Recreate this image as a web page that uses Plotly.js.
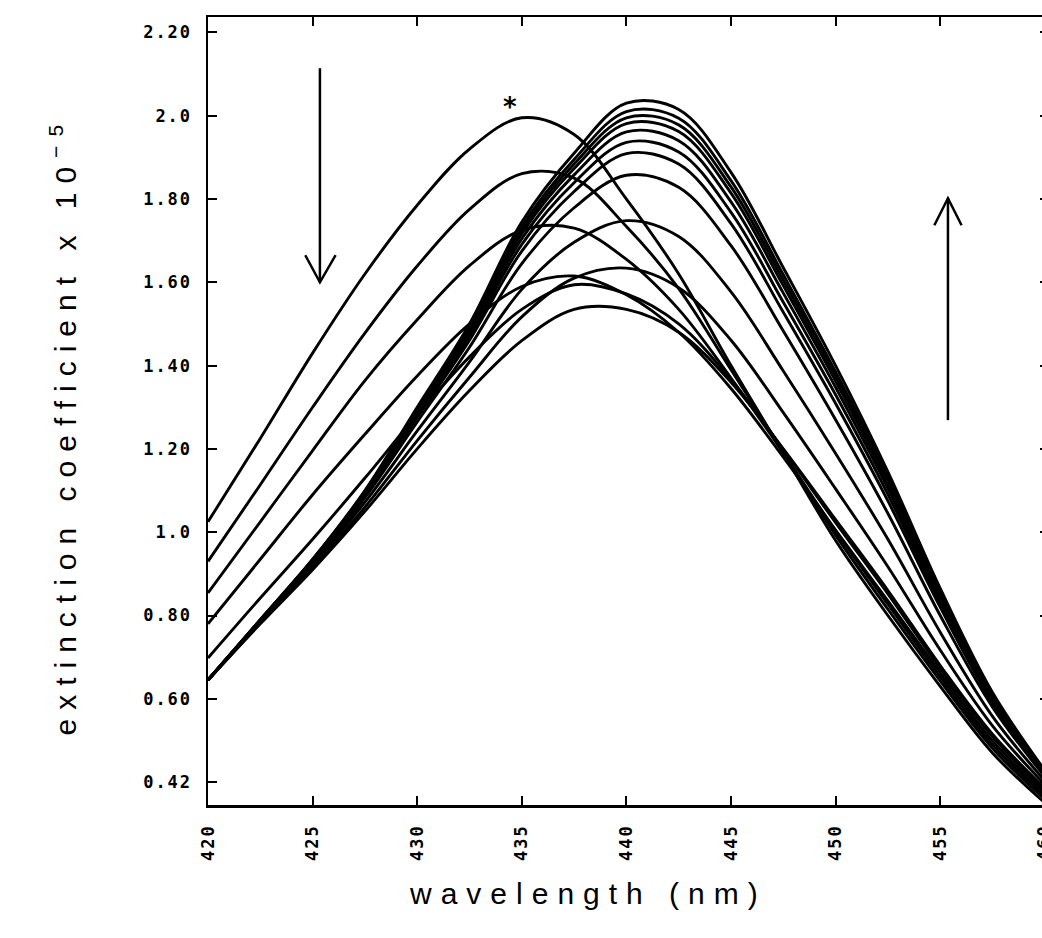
<!DOCTYPE html>
<html>
<head>
<meta charset="utf-8">
<script src="https://cdn.plot.ly/plotly-3.0.1.min.js"></script>
<style>
  html, body { margin: 0; padding: 0; background: #fff; overflow: hidden; width: 1042px; height: 938px; }
  #chart { width: 1049px; height: 938px; }
  .annotation-text { letter-spacing: 9px; }
  .ytick text, .xtick text { letter-spacing: 2px; }
</style>
</head>
<body>
<div id="chart"></div>
<script>
// wavelengths (nm)
const wavelength = [420, 422.5, 425, 427.5, 430, 432.5, 435, 437.5, 440, 442.5, 445, 447.5, 450, 452.5, 455, 457.5, 460];

// decreasing series (down arrow), extinction coefficient x 10^-5
const specA = [1.025, 1.225, 1.43, 1.62, 1.785, 1.92, 1.995, 1.955, 1.80, 1.62, 1.40, 1.19, 0.98, 0.80, 0.63, 0.47, 0.35];
const specB = [0.930, 1.114, 1.30, 1.478, 1.639, 1.775, 1.861, 1.85, 1.734, 1.585, 1.39, 1.193, 0.993, 0.815, 0.643, 0.481, 0.359];
const specC = [0.854, 1.025, 1.196, 1.364, 1.51, 1.64, 1.725, 1.73, 1.655, 1.535, 1.37, 1.19, 1.003, 0.827, 0.653, 0.49, 0.366];
const specD = [0.78, 0.935, 1.09, 1.235, 1.375, 1.50, 1.59, 1.615, 1.57, 1.48, 1.345, 1.18, 1.005, 0.835, 0.663, 0.499, 0.373];
const specE = [0.698, 0.842, 0.983, 1.13, 1.282, 1.421, 1.535, 1.594, 1.572, 1.50, 1.366, 1.199, 1.023, 0.852, 0.673, 0.509, 0.38];
const specF = [0.645, 0.78, 0.91, 1.05, 1.20, 1.34, 1.46, 1.535, 1.535, 1.48, 1.36, 1.20, 1.03, 0.86, 0.68, 0.515, 0.385];

// increasing series (up arrow)
const specG1 = [0.645, 0.782, 0.915, 1.06, 1.22, 1.372, 1.517, 1.61, 1.634, 1.587, 1.461, 1.287, 1.104, 0.917, 0.717, 0.535, 0.394];
const specG2 = [0.645, 0.784, 0.921, 1.072, 1.243, 1.409, 1.583, 1.696, 1.748, 1.71, 1.577, 1.387, 1.189, 0.983, 0.76, 0.558, 0.403];
const specG3 = [0.645, 0.787, 0.926, 1.083, 1.265, 1.444, 1.645, 1.779, 1.857, 1.828, 1.688, 1.483, 1.27, 1.045, 0.80, 0.58, 0.413];
const specG4 = [0.645, 0.788, 0.929, 1.088, 1.276, 1.461, 1.675, 1.818, 1.909, 1.884, 1.741, 1.528, 1.309, 1.075, 0.82, 0.59, 0.417];
const specG5 = [0.645, 0.788, 0.93, 1.09, 1.281, 1.47, 1.691, 1.839, 1.936, 1.913, 1.768, 1.552, 1.33, 1.091, 0.83, 0.596, 0.42];
const specG6 = [0.645, 0.789, 0.932, 1.093, 1.286, 1.478, 1.705, 1.858, 1.961, 1.94, 1.793, 1.574, 1.348, 1.105, 0.839, 0.601, 0.422];
const specG7 = [0.645, 0.789, 0.933, 1.095, 1.29, 1.484, 1.717, 1.873, 1.981, 1.962, 1.814, 1.592, 1.363, 1.117, 0.847, 0.605, 0.424];
const specG8 = [0.645, 0.789, 0.933, 1.097, 1.293, 1.489, 1.725, 1.884, 1.995, 1.978, 1.829, 1.605, 1.374, 1.125, 0.852, 0.608, 0.425];
const specG9 = [0.645, 0.79, 0.934, 1.098, 1.296, 1.494, 1.734, 1.895, 2.01, 1.994, 1.844, 1.618, 1.385, 1.134, 0.858, 0.611, 0.426];
const specG10 = [0.645, 0.79, 0.935, 1.10, 1.30, 1.50, 1.745, 1.91, 2.03, 2.015, 1.864, 1.635, 1.40, 1.145, 0.865, 0.615, 0.428];

// axis ticks
const xTickVals = [420, 425, 430, 435, 440, 445, 450, 455, 460];
const xTickText = ["420", "425", "430", "435", "440", "445", "450", "455", "460"];
const yTickVals = [0.4, 0.6, 0.8, 1.0, 1.2, 1.4, 1.6, 1.8, 2.0, 2.2];
const yTickText = ["0.42", "0.60", "0.80", "1.0", "1.20", "1.40", "1.60", "1.80", "2.0", "2.20"];

const allSpectra = [specA, specB, specC, specD, specE, specF,
  specG1, specG2, specG3, specG4, specG5, specG6, specG7, specG8, specG9, specG10];

const traces = allSpectra.map(s => ({
  x: wavelength, y: s, type: 'scatter', mode: 'lines',
  line: {color: '#000', width: 2.9, shape: 'spline', smoothing: 1},
  hoverinfo: 'skip'
}));

const tickFont = {family: 'DejaVu Sans Mono', size: 17, color: '#000', weight: 'bold'};
const titleFont = {family: 'Liberation Sans, Arial, sans-serif', size: 30, color: '#000'};

const layout = {
  width: 1049, height: 938,
  margin: {l: 208, r: 0, t: 17, b: 133},
  paper_bgcolor: '#fff', plot_bgcolor: '#fff',
  showlegend: false,
  xaxis: {
    range: [420, 460.2], tickvals: xTickVals, ticktext: xTickText, tickangle: -90,
    ticks: 'inside', ticklen: 9, tickwidth: 2, tickcolor: '#000',
    showline: true, linewidth: 2.5, linecolor: '#000', mirror: 'ticks',
    showgrid: false, zeroline: false, tickfont: tickFont, ticklabelstandoff: 10,
    ticklabeloverflow: 'allow'
  },
  yaxis: {
    range: [0.345, 2.237], tickvals: yTickVals, ticktext: yTickText,
    ticks: 'inside', ticklen: 9, tickwidth: 2, tickcolor: '#000',
    showline: true, linewidth: 2.5, linecolor: '#000', mirror: 'ticks',
    showgrid: false, zeroline: false, tickfont: tickFont, ticklabelstandoff: 10,
    ticklabeloverflow: 'allow'
  },
  annotations: [
    {text: 'wavelength (nm)', xref: 'paper', yref: 'paper', x: 0.452, y: -0.112,
     xanchor: 'center', yanchor: 'middle', showarrow: false, font: titleFont},
    {text: 'extinction coefficient x 10<sup>\u22125</sup>', xref: 'paper', yref: 'paper',
     x: -0.172, y: 0.482, xanchor: 'center', yanchor: 'middle', textangle: -90,
     showarrow: false, font: titleFont},
    {text: '*', xref: 'x', yref: 'y', x: 434.63, y: 2.02, showarrow: false,
     font: {family: 'DejaVu Sans', size: 26, color: '#000', weight: 'bold'}}
  ],
  shapes: [
    {type: 'line', xref: 'x', yref: 'y', x0: 425.35, x1: 425.35, y0: 2.114, y1: 1.60,
     line: {color: '#000', width: 2.5}},
    {type: 'path', xref: 'x', yref: 'y',
     path: 'M 424.65,1.665 L 425.35,1.60 L 426.1,1.665', line: {color: '#000', width: 2.5}},
    {type: 'line', xref: 'x', yref: 'y', x0: 455.37, x1: 455.37, y0: 1.269, y1: 1.802,
     line: {color: '#000', width: 2.5}},
    {type: 'path', xref: 'x', yref: 'y',
     path: 'M 454.72,1.737 L 455.37,1.802 L 456.02,1.737', line: {color: '#000', width: 2.5}}
  ]
};

Plotly.newPlot('chart', traces, layout, {staticPlot: true, displayModeBar: false});
</script>
</body>
</html>
